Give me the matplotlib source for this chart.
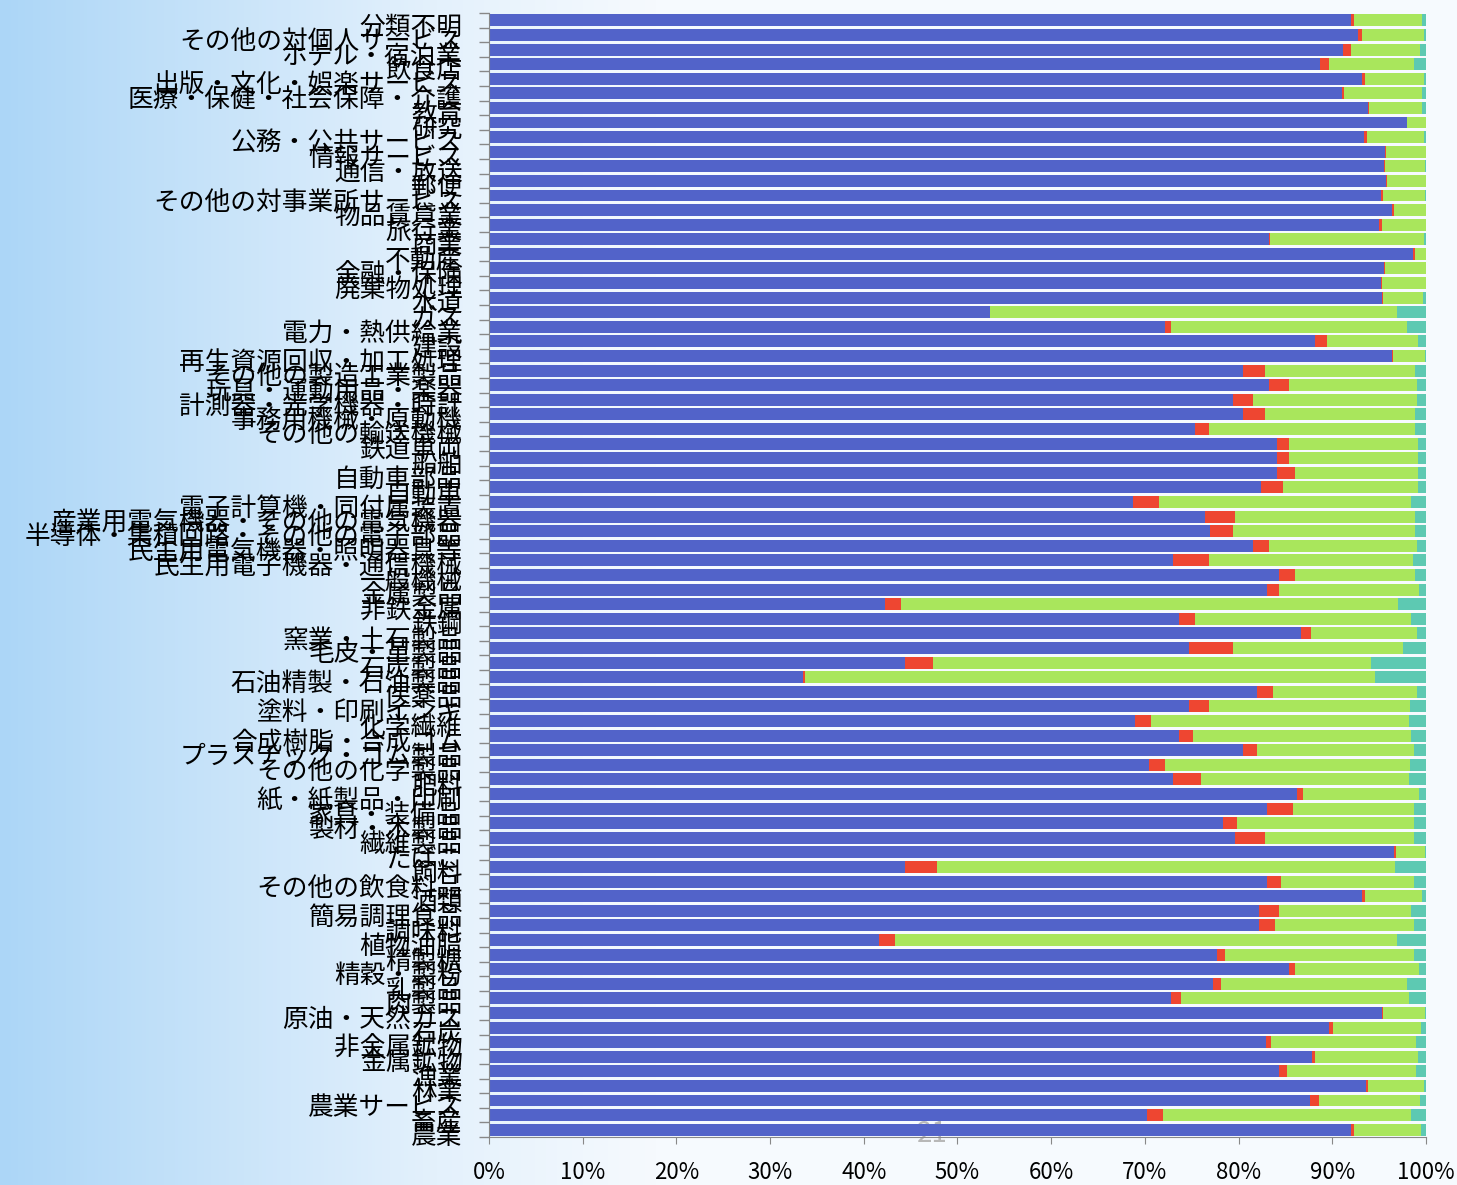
import numpy as np
import matplotlib
matplotlib.use("Agg")
import matplotlib.pyplot as plt
import matplotlib.transforms as mtransforms
from matplotlib.ticker import FuncFormatter

plt.rcParams["font.family"] = ["Noto Sans CJK JP", "DejaVu Sans"]

# categories, top to bottom
sectors = [
    "分類不明", "その他の対個人サービス", "ホテル・宿泊業", "飲食店",
    "出版・文化・娯楽サービス", "医療・保健・社会保障・介護", "教育", "研究",
    "公務・公共サービス", "情報サービス", "通信・放送", "郵便",
    "その他の対事業所サービス", "物品賃貸業", "旅行業", "商業", "不動産",
    "金融・保険", "廃棄物処理", "水道", "ガス", "電力・熱供給業", "建設",
    "再生資源回収・加工処理", "その他の製造工業製品", "玩具・運動用品・楽器",
    "計測器・光学機器・時計", "事務用機械・原動機", "その他の輸送機械",
    "鉄道車両", "船舶", "自動車部品", "自動車", "電子計算機・同付属装置",
    "産業用電気機器・その他の電気機器", "半導体・集積回路・その他の電子部品",
    "民生用電気機器・照明器具等", "民生用電子機器・通信機械", "一般機械",
    "金属製品", "非鉄金属", "鉄鋼", "窯業・土石製品", "毛皮・革製品",
    "石炭製品", "石油精製・石油製品", "医薬品", "塗料・印刷インキ", "化学繊維",
    "合成樹脂・合成ゴム", "プラスチック・ゴム製品", "その他の化学製品", "肥料",
    "紙・紙製品・印刷", "家具・装備品", "製材・木製品", "繊維製品", "たばこ",
    "飼料", "その他の飲食料品", "酒類", "簡易調理食品", "調味料", "植物油脂",
    "精製糖", "精穀・製粉", "乳製品", "肉製品", "原油・天然ガス", "石炭",
    "非金属鉱物", "金属鉱物", "漁業", "林業", "農業サービス", "畜産", "農業",
]

blue = [92.0, 92.7, 91.1, 88.7, 93.2, 91.0, 93.8, 98.0, 93.4, 95.6,
        95.5, 95.7, 95.2, 96.4, 95.0, 83.2, 98.6, 95.5, 95.2, 95.3,
        53.5, 72.1, 88.2, 96.4, 80.5, 83.2, 79.4, 80.5, 75.3, 84.1,
        84.1, 84.1, 82.4, 68.7, 76.4, 77.0, 81.5, 73.0, 84.3, 83.0,
        42.3, 73.6, 86.7, 74.7, 44.4, 33.5, 82.0, 74.7, 68.9, 73.6,
        80.5, 70.4, 73.0, 86.2, 83.0, 78.3, 79.6, 96.6, 44.4, 83.0,
        93.2, 82.2, 82.2, 41.6, 77.7, 85.4, 77.3, 72.8, 95.3, 89.6,
        82.9, 87.8, 84.3, 93.6, 87.6, 70.2, 92.0]
red = [0.3, 0.5, 0.9, 0.9, 0.3, 0.3, 0.1, 0.0, 0.3, 0.1,
       0.1, 0.1, 0.2, 0.2, 0.3, 0.2, 0.2, 0.1, 0.1, 0.1,
       0.0, 0.7, 1.2, 0.1, 2.3, 2.2, 2.1, 2.3, 1.5, 1.3,
       1.3, 1.9, 2.3, 2.8, 3.2, 2.4, 1.7, 3.8, 1.7, 1.3,
       1.7, 1.7, 1.0, 4.7, 3.0, 0.2, 1.7, 2.1, 1.8, 1.5,
       1.5, 1.7, 3.0, 0.7, 2.8, 1.5, 3.2, 0.2, 3.4, 1.5,
       0.3, 2.1, 1.7, 1.7, 0.8, 0.6, 0.8, 1.1, 0.1, 0.5,
       0.6, 0.4, 0.9, 0.2, 1.0, 1.7, 0.3]
green = [7.3, 6.6, 7.4, 9.1, 6.3, 8.3, 5.7, 2.0, 6.1, 4.3,
         4.3, 4.2, 4.5, 3.4, 4.7, 16.4, 1.2, 4.4, 4.7, 4.3,
         43.4, 25.2, 9.8, 3.4, 16.0, 13.6, 17.5, 16.0, 22.0, 13.8,
         13.8, 13.2, 14.5, 26.9, 19.2, 19.4, 15.8, 21.8, 12.8, 15.0,
         53.0, 23.1, 11.3, 18.1, 46.7, 60.9, 15.3, 21.5, 27.5, 23.3,
         16.7, 26.2, 22.2, 12.4, 12.9, 18.9, 15.9, 3.1, 48.9, 14.2,
         6.1, 14.1, 14.8, 53.6, 20.2, 13.3, 19.9, 24.3, 4.5, 9.4,
         15.4, 11.0, 13.7, 6.0, 10.8, 26.5, 7.2]
teal = [0.4, 0.2, 0.6, 1.3, 0.2, 0.4, 0.4, 0.0, 0.2, 0.0,
        0.1, 0.0, 0.1, 0.0, 0.0, 0.2, 0.0, 0.0, 0.0, 0.3,
        3.1, 2.0, 0.8, 0.1, 1.2, 1.0, 1.0, 1.2, 1.2, 0.8,
        0.8, 0.8, 0.8, 1.6, 1.2, 1.2, 1.0, 1.4, 1.2, 0.7,
        3.0, 1.6, 1.0, 2.5, 5.9, 5.4, 1.0, 1.7, 1.8, 1.6,
        1.3, 1.7, 1.8, 0.7, 1.3, 1.3, 1.3, 0.1, 3.3, 1.3,
        0.4, 1.6, 1.3, 3.1, 1.3, 0.7, 2.0, 1.8, 0.1, 0.5,
        1.1, 0.8, 1.1, 0.2, 0.6, 1.6, 0.5]

series = [blue, red, green, teal]
colors = ["#5263C9", "#EE4631", "#A9E65C", "#5DC9B2"]

fig = plt.figure(figsize=(14.57, 11.85), dpi=100)

# slide-like background: light blue on the left fading to white
bg = fig.add_axes([0, 0, 1, 1], zorder=-5)
xs = np.linspace(0, 1, 400)
left_c = np.array([172, 214, 247]) / 255
mid_c = np.array([228, 241, 252]) / 255
right_c = np.array([246, 250, 254]) / 255
grad = np.zeros((2, len(xs), 3))
for i, t in enumerate(xs):
    if t < 0.3:
        c = left_c + (mid_c - left_c) * (t / 0.3)
    else:
        c = mid_c + (right_c - mid_c) * min(1, (t - 0.3) / 0.15)
    grad[:, i, :] = c
bg.imshow(grad, aspect="auto", extent=[0, 1, 0, 1])
bg.text(0.64, 0.043, "21", fontsize=20, color="#b8b8b8", ha="center", va="center")
bg.set_xlim(0, 1)
bg.set_ylim(0, 1)
bg.axis("off")

ax = fig.add_axes([0.3356, 0.0405, 0.6431, 0.9485])
ax.set_facecolor("none")

pos = np.arange(len(sectors))
left = np.zeros(len(sectors))
for vals, col in zip(series, colors):
    ax.barh(pos, vals, left=left, height=0.82, color=col, linewidth=0)
    left = left + np.array(vals)

ax.set_xlim(0, 100)
ax.set_ylim(len(sectors) - 0.5, -0.5)
ax.set_xticks(np.arange(0, 101, 10))
ax.xaxis.set_major_formatter(FuncFormatter(lambda v, p: f"{int(v)}%"))
ax.set_yticks(pos)
ax.set_yticklabels(sectors, fontsize=18.5)
ax.set_yticks(np.arange(-0.5, len(sectors), 1), minor=True)
ax.tick_params(axis="y", which="major", length=0, pad=19)
ax.tick_params(axis="y", which="minor", length=7, color="#888888", width=1)
ax.tick_params(axis="x", length=5, color="#888888", labelsize=16, pad=12)

# labels sit a little below the bar centres in the original
shift = mtransforms.ScaledTranslation(0, -4 / 100, fig.dpi_scale_trans)
for lab in ax.get_yticklabels():
    lab.set_transform(lab.get_transform() + shift)

for s in ["top", "right"]:
    ax.spines[s].set_visible(False)
ax.spines["left"].set_color("#888888")
ax.spines["bottom"].set_color("#888888")

fig.savefig("out.png", dpi=100)
